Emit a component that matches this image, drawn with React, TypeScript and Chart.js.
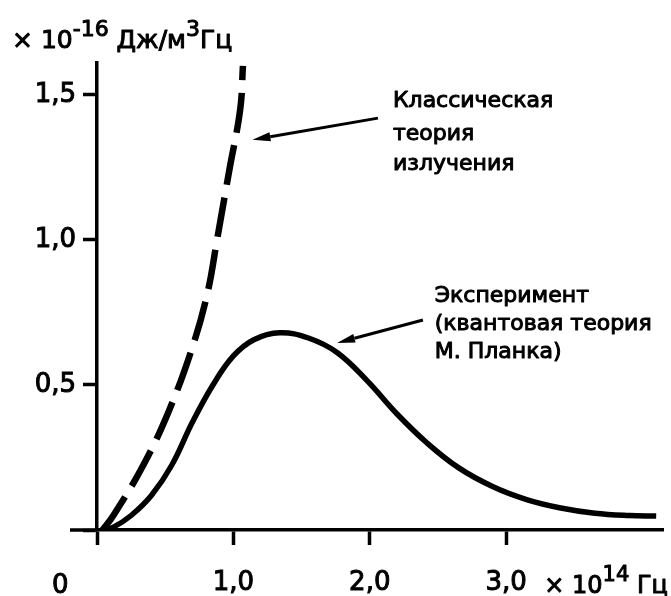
import { useEffect, useRef } from 'react';
import { Chart, registerables } from 'chart.js';

Chart.register(...registerables);

// Planck (experiment) curve, x in 1e14 Hz, y in 1e-16 J/(m^3 Hz)
const planckX = [0.04, 0.12, 0.25, 0.4, 0.55, 0.7, 0.85, 1.0, 1.15, 1.34, 1.55, 1.76, 1.98, 2.2, 2.42, 2.65, 2.9, 3.15, 3.4, 3.65, 3.9, 4.1];
const planckY = [0, 0.01, 0.05, 0.12, 0.225, 0.372, 0.5, 0.6, 0.656, 0.68, 0.662, 0.612, 0.515, 0.4, 0.3, 0.215, 0.15, 0.105, 0.076, 0.058, 0.05, 0.048];

// Classical (Rayleigh-Jeans) curve
const classicX = [0.04, 0.12, 0.34, 0.53, 0.7, 0.81, 0.88, 0.97, 1.05, 1.07];
const classicY = [0, 0.05, 0.224, 0.414, 0.631, 0.817, 1.0, 1.24, 1.45, 1.6];

const xTicks = [0, 1, 2, 3];
const xTickLabels = ['', '1,0', '2,0', '3,0'];
const yTicks = [0, 0.5, 1.0, 1.5];
const yTickLabels = ['', '0,5', '1,0', '1,5'];

const classicLabel = ['Классическая', 'теория', 'излучения'];
const planckLabel = ['Эксперимент', '(квантовая теория', 'М. Планка)'];

const FONT = '"DejaVu Sans", sans-serif';

type Part = { t: string; sup?: boolean };

function txt(ctx: CanvasRenderingContext2D, s: string, x: number, y: number) {
  ctx.fillText(s, x, y);
  ctx.strokeText(s, x, y);
}

function drawRich(ctx: CanvasRenderingContext2D, parts: Part[], x: number, y: number, size: number, supSize: number, rise: number) {
  let cx = x;
  ctx.textAlign = 'left';
  ctx.textBaseline = 'alphabetic';
  for (const p of parts) {
    ctx.font = `${p.sup ? supSize : size}px ${FONT}`;
    txt(ctx, p.t, cx, p.sup ? y - rise : y);
    cx += ctx.measureText(p.t).width;
  }
}

function arrow(ctx: CanvasRenderingContext2D, x1: number, y1: number, x2: number, y2: number) {
  const ang = Math.atan2(y2 - y1, x2 - x1);
  const len = 18;
  const w = 4.5;
  const bx = x2 - len * Math.cos(ang);
  const by = y2 - len * Math.sin(ang);
  ctx.strokeStyle = '#000';
  ctx.lineWidth = 3;
  ctx.beginPath();
  ctx.moveTo(x1, y1);
  ctx.lineTo(bx, by);
  ctx.stroke();
  ctx.beginPath();
  ctx.moveTo(x2, y2);
  ctx.lineTo(bx + w * Math.sin(ang), by - w * Math.cos(ang));
  ctx.lineTo(bx - w * Math.sin(ang), by + w * Math.cos(ang));
  ctx.closePath();
  ctx.fillStyle = '#000';
  ctx.fill();
}

const decor = {
  id: 'decor',
  afterDraw(chart: any) {
    const ctx: CanvasRenderingContext2D = chart.ctx;
    const xs = chart.scales.x;
    const ys = chart.scales.y;
    const x0 = xs.getPixelForValue(0);
    const y0 = ys.getPixelForValue(0);
    ctx.save();
    // extension of x axis to the left of the y axis
    ctx.strokeStyle = '#000';
    ctx.lineWidth = 3.5;
    ctx.beginPath();
    ctx.moveTo(x0 - 27, y0);
    ctx.lineTo(x0, y0);
    ctx.stroke();

    ctx.fillStyle = '#000';
    ctx.lineWidth = 1;
    ctx.lineJoin = 'round';
    // origin label
    ctx.font = `26px ${FONT}`;
    ctx.textAlign = 'center';
    ctx.textBaseline = 'alphabetic';
    txt(ctx, '0', xs.getPixelForValue(-0.27), 593);

    // y-axis unit
    drawRich(ctx, [{ t: '× 10' }, { t: '-16', sup: true }, { t: ' Дж/м' }, { t: '3', sup: true }, { t: 'Гц' }], 12, 48, 25, 22, 12);
    // x-axis unit
    drawRich(ctx, [{ t: '× 10' }, { t: '14', sup: true }, { t: ' Гц' }], xs.getPixelForValue(3.28), 593, 24, 21, 12);

    // annotations
    ctx.font = `22px ${FONT}`;
    ctx.textAlign = 'left';
    const cBase = [1.459, 1.345, 1.24];
    classicLabel.forEach((s, i) => txt(ctx, s, xs.getPixelForValue(2.17), ys.getPixelForValue(cBase[i])));
    const pBase = [0.786, 0.69, 0.593];
    planckLabel.forEach((s, i) => txt(ctx, s, xs.getPixelForValue(2.476), ys.getPixelForValue(pBase[i])));

    arrow(ctx, xs.getPixelForValue(2.06), ys.getPixelForValue(1.42), xs.getPixelForValue(1.14), ys.getPixelForValue(1.345));
    arrow(ctx, xs.getPixelForValue(2.39), ys.getPixelForValue(0.724), xs.getPixelForValue(1.76), ys.getPixelForValue(0.645));
    ctx.restore();
  },
};

export default function App() {
  const ref = useRef<HTMLCanvasElement>(null);
  useEffect(() => {
    const chart = new Chart(ref.current!, {
      type: 'line',
      data: {
        datasets: [
          {
            label: 'Классическая теория излучения',
            data: classicX.map((x, i) => ({ x, y: classicY[i] })),
            borderColor: '#000',
            borderWidth: 6.5,
            borderDash: [40, 13],
            pointRadius: 0,
            tension: 0.4,
            fill: false,
          },
          {
            label: 'Эксперимент',
            data: planckX.map((x, i) => ({ x, y: planckY[i] })),
            borderColor: '#000',
            borderWidth: 5.5,
            pointRadius: 0,
            tension: 0.4,
            fill: false,
          },
        ],
      },
      options: {
        animation: false,
        responsive: false,
        layout: { padding: { top: 63, right: 8, left: 0, bottom: 0 } },
        plugins: { legend: { display: false }, tooltip: { enabled: false } },
        scales: {
          x: {
            type: 'linear',
            min: 0,
            max: 4.15,
            afterFit: (s: any) => { s.height = 66; },
            afterBuildTicks: (s: any) => { s.ticks = xTicks.map((v) => ({ value: v })); },
            grid: { drawOnChartArea: false, drawTicks: true, tickLength: 15, tickWidth: 3.5, tickColor: '#000' },
            border: { display: true, color: '#000', width: 3.5 },
            ticks: {
              callback: (_v: any, i: number) => xTickLabels[i],
              color: '#000',
              font: { family: FONT, size: 26 },
              textStrokeColor: '#000',
              textStrokeWidth: 1,
              padding: 23,
              maxRotation: 0,
            },
          },
          y: {
            type: 'linear',
            min: 0,
            max: 1.61,
            afterFit: (s: any) => { s.width = 97; },
            afterBuildTicks: (s: any) => { s.ticks = yTicks.map((v) => ({ value: v })); },
            grid: { drawOnChartArea: false, drawTicks: true, tickLength: 14, tickWidth: 3.5, tickColor: '#000' },
            border: { display: true, color: '#000', width: 3.5 },
            ticks: {
              callback: (_v: any, i: number) => yTickLabels[i],
              color: '#000',
              font: { family: FONT, size: 26 },
              textStrokeColor: '#000',
              textStrokeWidth: 1,
              padding: 7,
            },
          },
        },
      },
      plugins: [decor],
    } as any);
    return () => chart.destroy();
  }, []);
  return (
    <div style={{ position: 'absolute', left: 0, top: 0, width: 671, height: 596, background: '#fff' }}>
      <canvas ref={ref} width={671} height={596} />
    </div>
  );
}
